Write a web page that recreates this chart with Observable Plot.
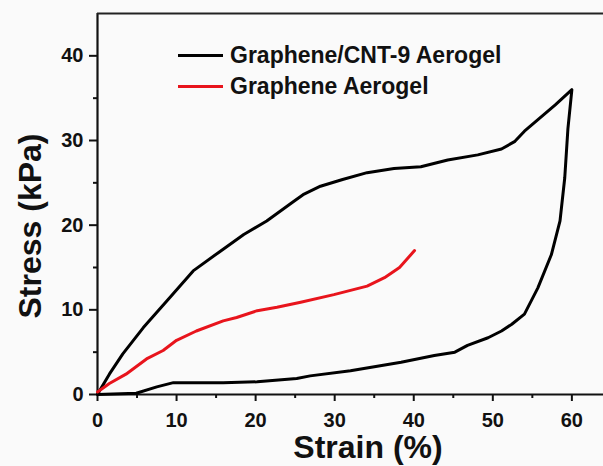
<!DOCTYPE html>
<html>
<head>
<meta charset="utf-8">
<script src="https://cdn.jsdelivr.net/npm/d3@7"></script>
<script src="https://cdn.jsdelivr.net/npm/@observablehq/plot@0.6"></script>
<style>
  html, body { margin: 0; padding: 0; background: #fafafa; }
  #wrap { position: relative; width: 603px; height: 466px; font-family: "Liberation Sans", Arial, sans-serif; }
  .legend { position: absolute; left: 178px; font-weight: bold; font-size: 23px; line-height: 26px; color: #111; display: flex; align-items: center; }
  .legend span.sw { display: inline-block; width: 45px; height: 0; border-top: 3px solid; margin-right: 7px; }
</style>
</head>
<body>
<div id="wrap"></div>
<script>
// Graphene/CNT-9 Aerogel: loading branch
const loadStrain = [0,0.3,1.5,3.2,5.8,9.1,12.1,15.5,18.5,21.4,24.8,26,28.2,31,34.1,37.5,40.9,44.3,48.1,51.1,52.8,54.0,57.9,60];
const loadStress = [0,0.5,2.4,4.8,7.9,11.4,14.6,16.9,18.9,20.5,22.8,23.6,24.6,25.4,26.2,26.7,26.9,27.7,28.3,29.0,29.9,31.1,34.2,36.0];
// Graphene/CNT-9 Aerogel: unloading branch
const unloadStrain = [59.5,59.1,58.5,57.4,55.7,54.0,52.4,51.1,49.4,46.8,45.2,42.6,38.4,32.0,26.9,25.2,20.2,15.9,9.6,7.5,4.9,0];
const unloadStress = [31.4,25.6,20.5,16.5,12.6,9.5,8.3,7.5,6.7,5.8,5.0,4.6,3.8,2.8,2.2,1.9,1.5,1.4,1.4,0.9,0.15,0];
// Graphene Aerogel
const gaStrain = [0,1.5,3.6,6.2,8.3,10,12.5,15.9,17.6,20.2,22.7,25.7,29.9,34.1,36.3,38.2,40.1];
const gaStress = [0.3,1.3,2.4,4.2,5.2,6.4,7.5,8.7,9.1,9.9,10.3,10.9,11.8,12.8,13.8,15.0,17.0];

const seriesNames = ["Graphene/CNT-9 Aerogel", "Graphene Aerogel"];
const seriesColors = ["#000000", "#e8141c"];
const xMajor = [0,10,20,30,40,50,60];
const xMinor = [5,15,25,35,45,55];
const yMajor = [0,10,20,30,40];
const yMinor = [5,15,25,35];

const cnt = loadStrain.map((x,i)=>({x, y: loadStress[i]}))
  .concat(unloadStrain.map((x,i)=>({x, y: unloadStress[i]})));
const ga = gaStrain.map((x,i)=>({x, y: gaStress[i]}));

const font = "Liberation Sans, Arial, sans-serif";
const chart = Plot.plot({
  width: 603, height: 466,
  marginLeft: 97, marginTop: 13, marginRight: 0, marginBottom: 72,
  style: {fontFamily: font, background: "transparent", color: "#111"},
  x: {domain: [0, 64]},
  y: {domain: [0, 45]},
  marks: [
    Plot.axisX({ticks: xMajor, tickSize: 7, tickPadding: 11, fontSize: 20, fontWeight: "bold", label: null, strokeWidth: 2}),
    Plot.axisX({ticks: xMinor, tickSize: 4, tickFormat: () => "", label: null, strokeWidth: 2}),
    Plot.axisY({ticks: yMajor, tickSize: 8, tickPadding: 6, fontSize: 20, fontWeight: "bold", label: null, strokeWidth: 2}),
    Plot.axisY({ticks: yMinor, tickSize: 4, tickFormat: () => "", label: null, strokeWidth: 2}),
    Plot.ruleX([0], {stroke: "#111", strokeWidth: 2.2}),
    Plot.ruleY([0], {stroke: "#111", strokeWidth: 2.2}),
    Plot.ruleY([45], {stroke: "#222", strokeWidth: 2.2}),
    Plot.line(cnt, {x: "x", y: "y", stroke: seriesColors[0], strokeWidth: 3, strokeLinejoin: "round"}),
    Plot.line(ga, {x: "x", y: "y", stroke: seriesColors[1], strokeWidth: 3, strokeLinejoin: "round"})
  ]
});
const wrap = document.getElementById("wrap");
chart.style.position = "absolute";
chart.style.left = "0"; chart.style.top = "0";
wrap.appendChild(chart);

// axis titles
const svg = d3.select(chart);
svg.append("text").attr("x", 368).attr("y", 458).attr("text-anchor", "middle")
  .attr("font-family", font).attr("font-weight", "bold").attr("font-size", 32).attr("fill", "#111")
  .text("Strain (%)");
svg.append("text").attr("transform", "translate(41,226) rotate(-90)").attr("text-anchor", "middle")
  .attr("font-family", font).attr("font-weight", "bold").attr("font-size", 32).attr("fill", "#111")
  .text("Stress (kPa)");

// legend
seriesNames.forEach((name, i) => {
  const d = document.createElement("div");
  d.className = "legend";
  d.style.top = (42 + i * 31) + "px";
  d.innerHTML = `<span class="sw" style="border-color:${seriesColors[i]}"></span>${name}`;
  wrap.appendChild(d);
});
</script>
</body>
</html>
